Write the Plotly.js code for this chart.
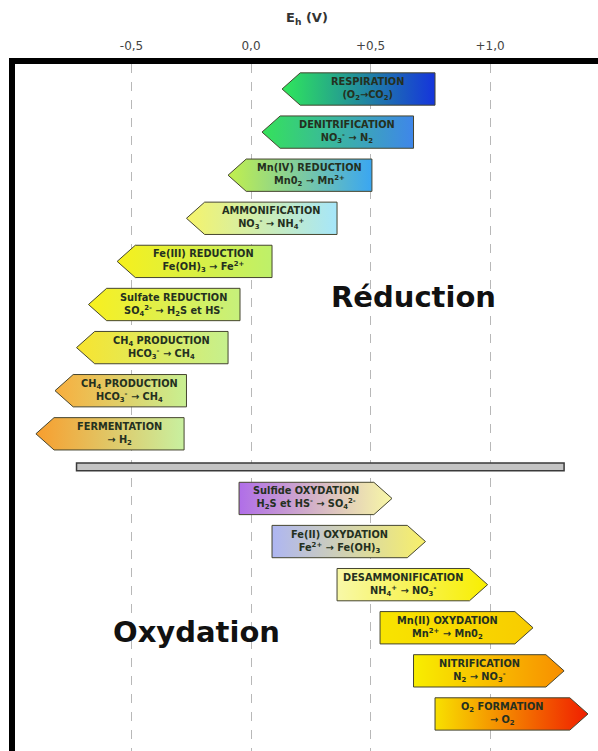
<!DOCTYPE html>
<html>
<head>
<meta charset="utf-8">
<script src="https://cdn.plot.ly/plotly-3.0.1.min.js"></script>
<style>html,body{margin:0;padding:0;background:#fff}#chart{width:598px;height:751px}</style>
</head>
<body>
<div id="chart"></div>
<script>
// ---- Data ----
const redLabels = [
  "RESPIRATION<br>(O<sub>2</sub>→CO<sub>2</sub>)",
  "DENITRIFICATION<br>NO<sub>3</sub><sup>-</sup> → N<sub>2</sub>",
  "Mn(IV) REDUCTION<br>Mn0<sub>2</sub> → Mn<sup>2+</sup>",
  "AMMONIFICATION<br>NO<sub>3</sub><sup>-</sup> → NH<sub>4</sub><sup>+</sup>",
  "Fe(III) REDUCTION<br>Fe(OH)<sub>3</sub> → Fe<sup>2+</sup>",
  "Sulfate REDUCTION<br>SO<sub>4</sub><sup>2-</sup> → H<sub>2</sub>S et HS<sup>-</sup>",
  "CH<sub>4</sub> PRODUCTION<br>HCO<sub>3</sub><sup>-</sup> → CH<sub>4</sub>",
  "CH<sub>4</sub> PRODUCTION<br>HCO<sub>3</sub><sup>-</sup> → CH<sub>4</sub>",
  "FERMENTATION<br>→ H<sub>2</sub>"
];
const redLow  = [0.13, 0.046, -0.096, -0.27, -0.56, -0.68, -0.73, -0.82, -0.90];
const redHigh = [0.77, 0.68, 0.506, 0.36, 0.088, -0.046, -0.096, -0.27, -0.28];
const redColors = [
  ["#2fe85a", "#1534dc"],
  ["#35e25a", "#3f86ea"],
  ["#c2f04c", "#3aa6f2"],
  ["#f6f46a", "#a6e6fa"],
  ["#f6f01c", "#bef06a"],
  ["#f8f01e", "#c6f07c"],
  ["#f8e42e", "#c6f08e"],
  ["#f8ae3e", "#c8f092"],
  ["#f89e2e", "#c8f0a0"]
];

const oxLabels = [
  "Sulfide OXYDATION<br>H<sub>2</sub>S et HS<sup>-</sup> → SO<sub>4</sub><sup>2-</sup>",
  "Fe(II) OXYDATION<br>Fe<sup>2+</sup> → Fe(OH)<sub>3</sub>",
  "DESAMMONIFICATION<br>NH<sub>4</sub><sup>+</sup> → NO<sub>3</sub><sup>-</sup>",
  "Mn(II) OXYDATION<br>Mn<sup>2+</sup> → Mn0<sub>2</sub>",
  "NITRIFICATION<br>N<sub>2</sub> → NO<sub>3</sub><sup>-</sup>",
  "O<sub>2</sub> FORMATION<br>→ O<sub>2</sub>"
];
const oxLow  = [-0.05, 0.088, 0.36, 0.54, 0.68, 0.77];
const oxHigh = [0.59, 0.73, 0.99, 1.18, 1.31, 1.41];
const oxColors = [
  ["#b06ee8", "#f8f8a6"],
  ["#aeb6f2", "#f8f06a"],
  ["#f8f8a8", "#f8ee00"],
  ["#f8e400", "#f8cc00"],
  ["#f8ee00", "#f88e00"],
  ["#f8e000", "#f01e00"]
];

const tickVals = [-0.5, 0.0, 0.5, 1.0];
const tickText = ["-0,5", "0,0", "+0,5", "+1,0"];
const separator = [-0.73, 1.31];

// ---- Geometry helpers (presentation only) ----
const W = 598, H = 751;
const mL = 15, mT = 64;
const pxZero = 251, pxPerV = 239;          // horizontal scale
const rowPx0 = 89, rowPx = 43.1;          // vertical rows
const xr = [(mL - pxZero) / pxPerV, (W - pxZero) / pxPerV];
const yr = [(H - rowPx0) / rowPx, (mT - rowPx0) / rowPx];
const halfH = 0.375, tipD = 0.076;

const traces = [];
const annotations = [];
const lblFont = {family: "DejaVu Sans", size: 9.8, color: "#243020"};

function addArrow(lo, hi, row, cols, label, dir) {
  let xs, ys, cx;
  if (dir < 0) {
    xs = [lo, lo + tipD, hi, hi, lo + tipD, lo];
    ys = [row, row - halfH, row - halfH, row + halfH, row + halfH, row];
    cx = (lo + tipD + hi) / 2;
  } else {
    xs = [lo, hi - tipD, hi, hi - tipD, lo, lo];
    ys = [row - halfH, row - halfH, row, row + halfH, row + halfH, row - halfH];
    cx = (lo + hi - tipD) / 2;
  }
  traces.push({
    type: "scatter", mode: "lines", x: xs, y: ys, fill: "toself",
    fillgradient: {type: "horizontal", colorscale: [[0, cols[0]], [1, cols[1]]]},
    line: {color: "#45452f", width: 1}, hoverinfo: "skip", showlegend: false
  });
  annotations.push({
    x: cx, y: row, xref: "x", yref: "y", text: "<b>" + label + "</b>",
    showarrow: false, font: lblFont, align: "center"
  });
}

redLabels.forEach((l, i) => addArrow(redLow[i], redHigh[i], i, redColors[i], l, -1));
oxLabels.forEach((l, j) => addArrow(oxLow[j], oxHigh[j], 9.5 + j, oxColors[j], l, 1));

annotations.push({
  x: 0.68, y: 4.82, xref: "x", yref: "y", text: "<b>Réduction</b>", showarrow: false,
  font: {family: "DejaVu Sans", size: 29, color: "#111"}
});
annotations.push({
  x: -0.226, y: 12.6, xref: "x", yref: "y", text: "<b>Oxydation</b>", showarrow: false,
  font: {family: "DejaVu Sans", size: 29, color: "#111"}
});
annotations.push({
  x: 0.5, y: 1 + (mT - 19) / (H - mT), xref: "paper", yref: "paper", yanchor: "middle", showarrow: false,
  text: "<b>E<sub>h</sub> (V)</b>", font: {family: "DejaVu Sans", size: 13, color: "#333"}
});

const layout = {
  width: W, height: H,
  margin: {l: mL, r: 0, t: mT, b: 0, pad: 0},
  paper_bgcolor: "#ffffff", plot_bgcolor: "#ffffff",
  xaxis: {
    side: "top", range: xr, tickvals: tickVals, ticktext: tickText,
    showgrid: true, gridcolor: "#b8b8b8", griddash: "dash", gridwidth: 1,
    zeroline: false, showline: true, linecolor: "#000", linewidth: 6,
    ticks: "", ticklabelstandoff: 3,
    tickfont: {family: "DejaVu Sans", size: 12, color: "#444"}, fixedrange: true
  },
  yaxis: {
    range: yr, showgrid: false, zeroline: false, showticklabels: false,
    showline: true, linecolor: "#000", linewidth: 6, ticks: "", fixedrange: true
  },
  shapes: [{
    type: "rect", xref: "x", yref: "y", x0: separator[0], x1: separator[1],
    y0: 8.68, y1: 8.86, fillcolor: "#c4c4c4", line: {color: "#3a3a3a", width: 1.5}
  }],
  annotations: annotations,
  showlegend: false
};

Plotly.newPlot("chart", traces, layout, {displayModeBar: false, staticPlot: true});
</script>
</body>
</html>
